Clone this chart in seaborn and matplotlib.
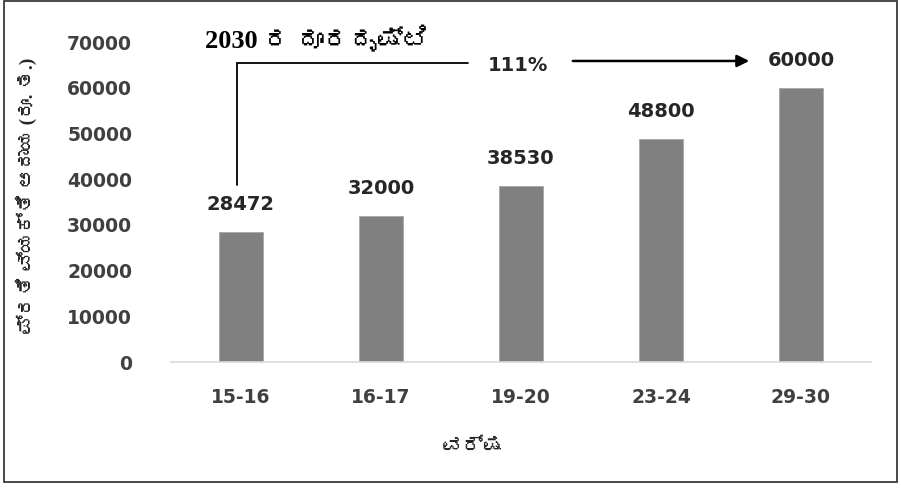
import matplotlib
matplotlib.use("Agg")
import matplotlib.pyplot as plt
import seaborn as sns
from matplotlib import font_manager
from matplotlib.ft2font import FT2Font
from matplotlib.patches import Rectangle

# ---------- data ----------
years = ["15-16", "16-17", "19-20", "23-24", "29-30"]
values = [28472, 32000, 38530, 48800, 60000]
y_ticks = [0, 10000, 20000, 30000, 40000, 50000, 60000, 70000]

title_text = "2030 ರ ದೂರದೃಷ್ಟಿ"
x_label = "ವರ್ಷ"
y_label = "ಪ್ರತಿ ವ್ಯಕ್ತಿ ಆದಾಯ (ರೂ. ತ.)"


# ---------- fonts: look for anything that can draw Kannada ----------
def find_kannada_font():
    for f in font_manager.fontManager.ttflist:
        try:
            if 0x0C95 in FT2Font(f.fname).get_charmap():
                return f.name
        except Exception:
            pass
    return None


kn = find_kannada_font()
sans = ["DejaVu Sans"] + ([kn] if kn else [])
serif = ["Liberation Serif"] + ([kn] if kn else []) + ["DejaVu Sans"]

sns.set_style("white")
plt.rcParams["font.family"] = sans

# ---------- plot ----------
fig = plt.figure(figsize=(9.01, 4.88), dpi=100)
ax = fig.add_axes([171 / 901, 1 - 362 / 488, 700 / 901, 320 / 488])

sns.barplot(x=years, y=values, color="#808080", saturation=1, width=0.31,
            edgecolor="#a6a6a6", linewidth=0.6, ax=ax)

ax.set_ylim(0, 70000)
ax.set_xlim(-0.5, len(years) - 0.5)
ax.set_yticks(y_ticks)
ax.set_yticklabels([str(t) for t in y_ticks], fontsize=13.5, fontweight="bold", color="#404040")
ax.tick_params(axis="x", labelsize=13.5, colors="#404040", length=0, pad=19)
ax.tick_params(axis="y", length=0, pad=28)
for lab in ax.get_xticklabels():
    lab.set_fontweight("bold")

for s in ["top", "right", "left"]:
    ax.spines[s].set_visible(False)
ax.spines["bottom"].set_color("#d9d9d9")
ax.spines["bottom"].set_linewidth(1.2)

# value labels above the bars
for i, v in enumerate(values):
    ax.annotate(str(v), (i, v), xytext=(0, 27), textcoords="offset pixels",
                ha="center", va="center", fontsize=14, fontweight="bold", color="#262626")

ax.set_xlabel(x_label, fontsize=15, fontweight="bold", family=serif)
ax.xaxis.set_label_coords(0.431, -0.235)
ax.set_ylabel(y_label, fontsize=14, fontweight="bold", family=serif)
ax.yaxis.set_label_coords(-0.191, 0.52)

# ---------- growth annotation ----------
growth = round((values[-1] - values[0]) / values[0] * 100)
x0 = -0.03
y_line = 65400
ax.plot([x0, x0, 1.62], [values[0] + 10200, y_line, y_line], color="black", lw=1.3,
        clip_on=False, solid_joinstyle="miter")
ax.text(1.98, 64900, f"{growth}%", ha="center", va="center", fontsize=14,
        fontweight="bold", color="#262626")
ax.annotate("", xy=(3.65, 65850), xytext=(2.35, 65850),
            arrowprops=dict(arrowstyle="-|>", color="black", lw=1.8, mutation_scale=18),
            annotation_clip=False)

fig.text(205 / 901, 1 - 40 / 488, title_text, ha="left", va="center", fontsize=19,
         fontweight="bold", family=serif, color="black")

# frame around the whole picture
fig.patches.append(Rectangle((4 / 901, 1 - 482 / 488), 893 / 901, 481 / 488,
                             transform=fig.transFigure, fill=False,
                             edgecolor="#3a3a3a", linewidth=1.3))

fig.savefig("out.png", dpi=100)
